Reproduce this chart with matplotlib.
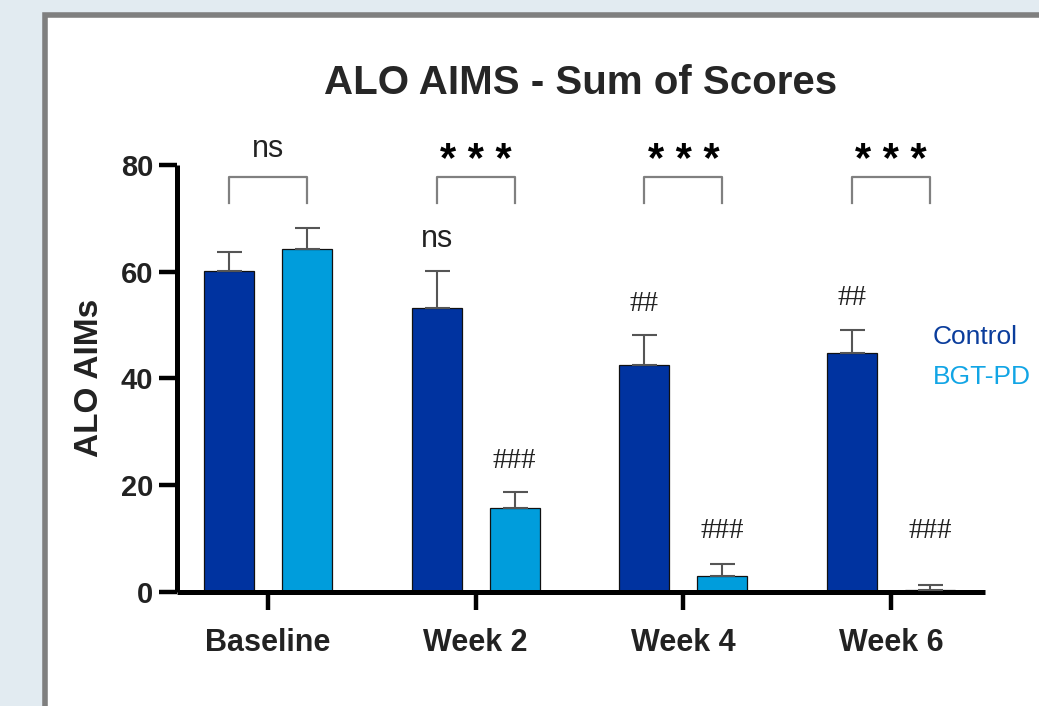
import numpy as np
import matplotlib
matplotlib.use('Agg')
import matplotlib.pyplot as plt
from matplotlib.patches import Rectangle

plt.rcParams['font.family'] = ['Liberation Sans', 'DejaVu Sans']

''' values read off the figure '''
groups = ['Baseline', 'Week 2', 'Week 4', 'Week 6']
control_mean = [60.1, 53.1, 42.5, 44.7]
control_err = [3.5, 7.0, 5.6, 4.4]
bgt_mean = [64.2, 15.6, 2.95, 0.25]
bgt_err = [4.0, 3.0, 2.3, 1.0]
sig_between = ['ns', '***', '***', '***']     # Control vs BGT-PD
sig_control = ['', 'ns', '##', '##']          # vs baseline
sig_bgt = ['', '###', '###', '###']           # vs baseline

c_dark = '#0033a0'
c_light = '#009ddc'

W, H = 1039, 706
fig = plt.figure(figsize=(W / 100, H / 100), dpi=100)
fig.patch.set_facecolor('#e2ebf1')
# white slide panel with grey frame
panel = Rectangle((44.5 / W, -0.05), 1.2, (H - 14.5) / H + 0.05,
                  transform=fig.transFigure, facecolor='white',
                  edgecolor='#7f7f7f', linewidth=4, zorder=-5)
fig.add_artist(panel)

ax = fig.add_axes([177 / W, 114.3 / H, 808 / W, 426.7 / H])
ax.patch.set_alpha(0)

x = np.arange(len(groups))
off, bw = 0.188, 0.241
b1 = ax.bar(x - off, control_mean, bw, color=c_dark, edgecolor='#111111',
            linewidth=0.9, zorder=2, label='Control')
b2 = ax.bar(x + off, bgt_mean, bw, color=c_light, edgecolor='#111111',
            linewidth=0.9, zorder=2, label='BGT-PD')
ax.errorbar(x - off, control_mean, yerr=[np.zeros(4), control_err], fmt='none',
            ecolor='#555555', elinewidth=1.5, capsize=9, capthick=1.5, zorder=3)
ax.errorbar(x + off, bgt_mean, yerr=[np.zeros(4), bgt_err], fmt='none',
            ecolor='#555555', elinewidth=1.5, capsize=9, capthick=1.5, zorder=3)

ax.set_xlim(-0.438, 3.452)
ax.set_ylim(0, 80)
for s in ['top', 'right']:
    ax.spines[s].set_visible(False)
for s in ['left', 'bottom']:
    ax.spines[s].set_linewidth(3.6)
    ax.spines[s].set_color('black')
    ax.spines[s].set_capstyle('butt')

ax.set_xticks(x)
ax.set_xticklabels(groups, fontsize=22, fontweight='bold', color='#222222')
ax.set_yticks([0, 20, 40, 60, 80])
ax.set_yticklabels(['0', '20', '40', '60', '80'], fontsize=21,
                   fontweight='bold', color='#222222')
ax.tick_params(axis='x', length=13, width=3.2, pad=13)
ax.tick_params(axis='y', length=13, width=3.2, pad=4)

ax.set_ylabel('ALO AIMs', fontsize=24, fontweight='bold', color='#222222')
ax.yaxis.set_label_coords(-0.089, 0.5)

fig.text(581 / W, (H - 94) / H, 'ALO AIMS - Sum of Scores', ha='center',
         va='baseline', fontsize=29, fontweight='bold', color='#262626')

# brackets between the two groups + significance
for i in range(len(groups)):
    ax.plot([x[i] - off, x[i] - off, x[i] + off, x[i] + off],
            [72.9, 77.7, 77.7, 72.9], color='#808080', lw=1.6,
            clip_on=False, zorder=3)
    s = sig_between[i]
    if '*' in s:
        ax.text(x[i], 78.7, ' '.join(s), ha='center', va='baseline',
                fontsize=30, fontweight='bold', color='black', clip_on=False)
    else:
        ax.text(x[i], 81.5, s, ha='center', va='baseline', fontsize=22,
                color='#222222', clip_on=False)


def mark(xp, top, s):
    if not s:
        return
    y = max(top + 4.6, 10)
    if s.startswith('#'):
        ax.text(xp, y, s, ha='center', va='baseline', fontsize=21,
                family='Liberation Serif', color='#222222')
    else:
        ax.text(xp, y, s, ha='center', va='baseline', fontsize=22,
                color='#222222')


for i in range(len(groups)):
    mark(x[i] - off, control_mean[i] + control_err[i], sig_control[i])
    mark(x[i] + off, bgt_mean[i] + bgt_err[i], sig_bgt[i])

leg = ax.legend(handles=[b1, b2], loc='center left',
                bbox_to_anchor=(0.9356, 0.55), borderaxespad=0, borderpad=0,
                frameon=False, fontsize=19, handlelength=0, handletextpad=0,
                labelspacing=0.6, labelcolor=['#0b3d9c', '#12a5e5'])
for h in leg.legend_handles:
    h.set_visible(False)

fig.savefig('out.png', dpi=100, facecolor=fig.get_facecolor())
